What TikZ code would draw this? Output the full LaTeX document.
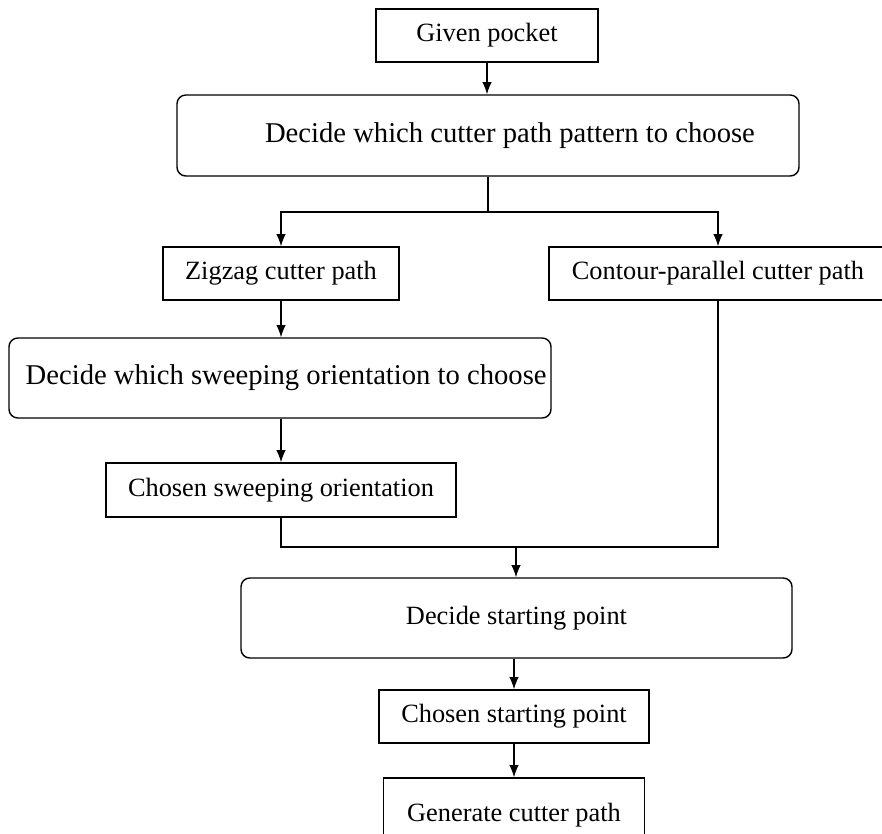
\documentclass[tikz,border=0pt]{standalone}
\usepackage{fontspec}
\setmainfont{Liberation Serif}
\usetikzlibrary{shapes, arrows.meta}

\begin{document}
\begin{tikzpicture}[x=0.02cm, y=-0.02cm,
    box/.style={draw, line width=0.8pt, inner sep=0pt, font=\fontsize{15}{18}\selectfont},
    decide/.style={box, rounded corners=5pt},
    flow/.style={->, >={Latex[length=7pt, width=5.5pt]}, line width=0.8pt}]
    \useasboundingbox (0, 0) rectangle (882, 833);

    \node[box, minimum width=222*0.02cm, minimum height=53*0.02cm] (pocket) at (487, 35.5) {Given pocket} ;
    \node[decide, minimum width=622*0.02cm, minimum height=81*0.02cm, font=\fontsize{16.3}{19}\selectfont] (pattern) at (488, 135.5) {\hspace*{25pt}Decide which cutter path pattern to choose} ;
    \node[box, minimum width=236*0.02cm, minimum height=53*0.02cm] (zigzag) at (281, 273.5) {Zigzag cutter path} ;
    \node[box, minimum width=338*0.02cm, minimum height=53*0.02cm] (contour) at (718, 273.5) {Contour-parallel cutter path} ;
    \node[decide, minimum width=542*0.02cm, minimum height=80*0.02cm, font=\fontsize{16.3}{19}\selectfont] (orient) at (280, 378) {\hspace*{7pt}Decide which sweeping orientation to choose} ;
    \node[box, minimum width=350*0.02cm, minimum height=54*0.02cm] (chosenorient) at (281, 490) {Chosen sweeping orientation} ;
    \node[decide, minimum width=551*0.02cm, minimum height=80*0.02cm] (start) at (516.5, 618) {Decide starting point} ;
    \node[box, minimum width=270*0.02cm, minimum height=53*0.02cm] (chosenstart) at (514, 716.5) {Chosen starting point} ;
    \node[box, minimum width=261*0.02cm, minimum height=74*0.02cm] (generate) at (514, 815) {Generate cutter path} ;

    \coordinate (split) at (488, 212) ;
    \coordinate (merge) at (516, 547) ;

    \draw[flow] (pocket.south) -- (pocket.south |- pattern.north);
    \draw[line width=0.8pt] (pattern.south) -- (split);
    \draw[flow] (split) -| (zigzag.north);
    \draw[flow] (split) -| (contour.north);
    \draw[flow] (zigzag.south) -- (zigzag.south |- orient.north);
    \draw[flow] (chosenorient.north |- orient.south) -- (chosenorient.north);
    \draw[line width=0.8pt] (chosenorient.south) |- (merge) -| (contour.south);
    \draw[flow] (merge) -- (merge |- start.north);
    \draw[flow] (chosenstart.north |- start.south) -- (chosenstart.north);
    \draw[flow] (chosenstart.south) -- (generate.north);
  \end{tikzpicture}
\end{document}
